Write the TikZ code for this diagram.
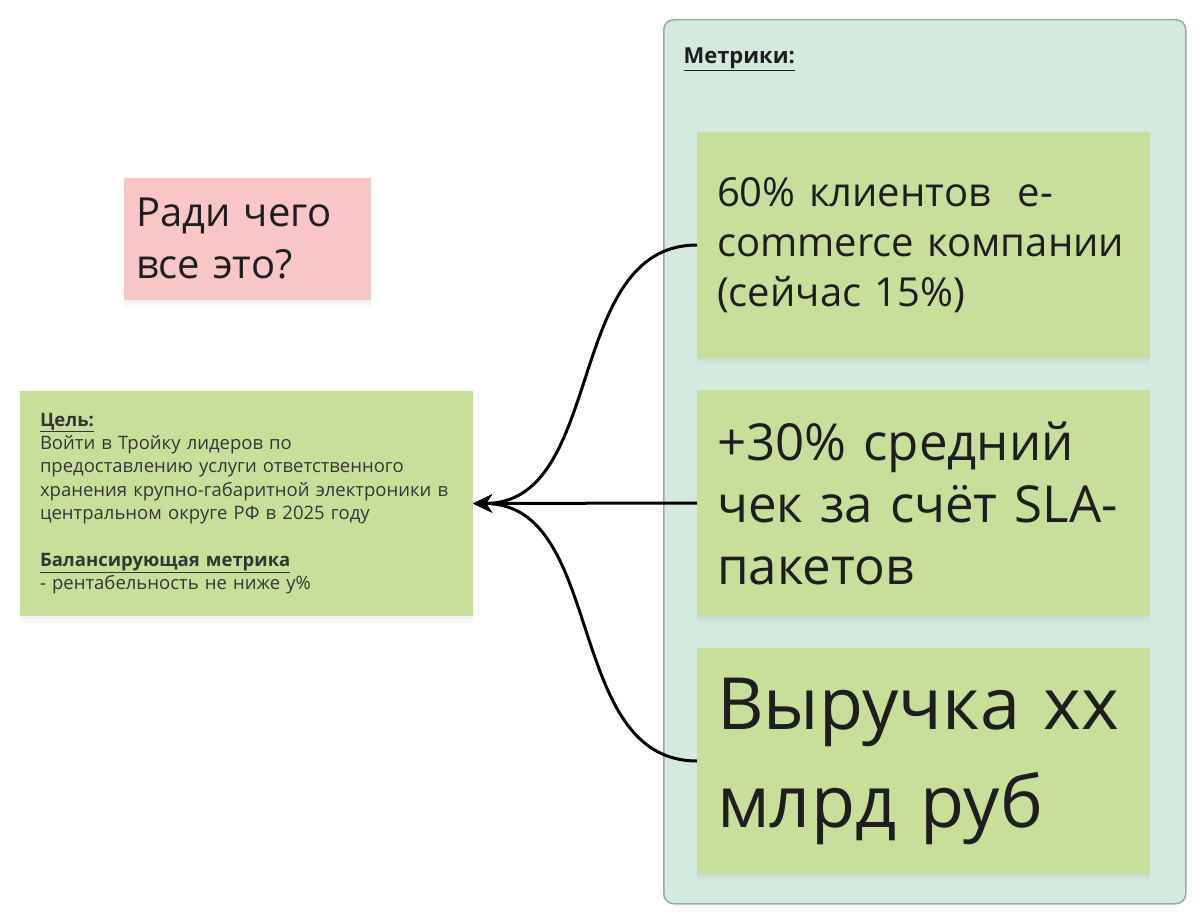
\documentclass[tikz,border=0pt]{standalone}
\usepackage{fontspec}
\setmainfont{Open Sans}
\usetikzlibrary{arrows.meta,shadows}

\definecolor{framefill}{HTML}{D5EADF}
\definecolor{framedraw}{HTML}{9AABA3}
\definecolor{cardgreen}{HTML}{C8DF9B}
\definecolor{cardpink}{HTML}{F8C6C6}
\definecolor{ink}{HTML}{1E1E1E}

\begin{document}
\begin{tikzpicture}[x=1pt,y=-1pt,
    card/.style={rectangle, anchor=north west, fill=cardgreen, inner xsep=20pt, inner ysep=0pt,
      outer sep=0pt, minimum width=453pt, minimum height=226pt, text width=413pt, align=left,
      text=ink, drop shadow={shadow xshift=0pt, shadow yshift=-3pt, opacity=0.06},
      drop shadow={shadow xshift=0pt, shadow yshift=-7pt, opacity=0.05}},
    link/.style={line width=3pt, -{Stealth[length=19pt,width=18pt,inset=6pt]}}]

    % Fix the page size
    \useasboundingbox (0,0) rectangle (1200,923);

    % Draw the metrics frame and its title
    \node[anchor=north west, rectangle, rounded corners=10pt, fill=framefill, draw=framedraw,
      line width=1.5pt, minimum width=522pt, minimum height=884pt] (metrics) at (663,19) {};
    \node[anchor=base west, font=\fontsize{22}{26}\selectfont\bfseries, text=ink] (title) at (680,64) {\underline{Метрики:}};

    % Add the three metric cards
    \node[card, font=\fontsize{40}{50}\selectfont] (m1) at (697,132)
      {60\% клиентов\ \ e-\\commerce компании\\(сейчас 15\%)};
    \node[card, font=\fontsize{51}{62}\selectfont] (m2) at (697,390)
      {+30\% средний\\чек за счёт SLA-\\пакетов};
    \node[card, font=\fontsize{72}{98}\selectfont] (m3) at (697,648)
      {\mbox{Выручка xx}\\млрд руб};

    % Add the goal card on the left
    \node[card, font=\fontsize{18.5}{23.3}\selectfont, minimum height=225pt, text=ink!90] (goal) at (20,391)
      {\textbf{\underline{Цель:}}\\
       Войти в Тройку лидеров по\\
       предоставлению услуги ответственного\\
       хранения крупно-габаритной электроники в\\
       центральном округе РФ в 2025 году\\[23.3pt]
       \textbf{\underline{Балансирующая метрика}}\\
       - рентабельность не ниже y\%};

    % Add the question card
    \node[card, fill=cardpink, font=\fontsize{40}{52}\selectfont, inner xsep=12pt,
      minimum width=247pt, minimum height=122pt, text width=223pt] (why) at (124,178)
      {Ради чего\\все это?};

    % Draw the links from the metrics to the goal
    \draw[link] (m1.west) to[out=180,in=0] (goal.east);
    \draw[link] (m2.west) -- (goal.east);
    \draw[link] (m3.west) to[out=180,in=0] (goal.east);

\end{tikzpicture}
\end{document}
